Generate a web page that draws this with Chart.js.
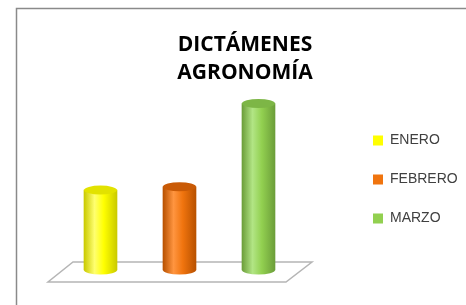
<!DOCTYPE html>
<html><head><meta charset="utf-8">
<script src="https://cdn.jsdelivr.net/npm/chart.js@4"></script>
<style>html,body{margin:0;padding:0;background:#fff;overflow:hidden}</style>
</head><body>
<canvas id="c" width="466" height="305"></canvas>
<script>
const categories = ['ENERO', 'FEBRERO', 'MARZO'];
const values = [24, 25, 50];
const titleLines = ['DICTÁMENES', 'AGRONOMÍA'];
const colors = ['#ffff00', '#f0740e', '#92d050'];
const edgeColors = ['#caca00', '#b85100', '#6c9e3a'];
const highlightColors = ['#ffff70', '#ff9540', '#b2e585'];
const topColors = ['#e2e200', '#c95a06', '#7db646'];
const yMax = 50;

function cylinderFill(i) {
  return (ctx) => {
    const ch = ctx.chart;
    const xs = ch.scales && ch.scales.x;
    if (!xs || !ch.chartArea) return colors[i];
    const cx = xs.getPixelForValue(i);
    const h = 16.5;
    const g = ch.ctx.createLinearGradient(cx - h, 0, cx + h, 0);
    g.addColorStop(0, edgeColors[i]);
    g.addColorStop(0.32, highlightColors[i]);
    g.addColorStop(0.6, colors[i]);
    g.addColorStop(1, edgeColors[i]);
    return g;
  };
}

const cylinderPlugin = {
  id: 'cylinder3d',
  beforeDraw(chart) {
    const c = chart.ctx;
    c.save();
    c.strokeStyle = '#8a8a8a';
    c.lineWidth = 1.5;
    c.strokeRect(16.5, 8.5, 600, 400);
    c.restore();
  },
  beforeDatasetsDraw(chart) {
    const c = chart.ctx;
    const xs = chart.scales.x, ys = chart.scales.y;
    const y0 = ys.getPixelForValue(0);
    const xL = xs.getPixelForValue(0), xR = xs.getPixelForValue(categories.length - 1);
    c.save();
    c.beginPath();
    c.moveTo(xL - 52.5, y0 + 12);
    c.lineTo(xR + 27.5, y0 + 12);
    c.lineTo(xR + 53.5, y0 - 8);
    c.lineTo(xL - 27.5, y0 - 8);
    c.closePath();
    c.fillStyle = '#ffffff';
    c.fill();
    c.strokeStyle = '#b5b5b5';
    c.lineWidth = 1.5;
    c.stroke();
    c.restore();
  },
  afterDatasetsDraw(chart) {
    const c = chart.ctx;
    chart.data.datasets.forEach((ds, i) => {
      const meta = chart.getDatasetMeta(i);
      meta.data.forEach((el) => {
        const rx = el.width / 2, ry = 4.5;
        c.save();
        c.beginPath();
        c.ellipse(el.x, el.base, rx, ry, 0, 0, Math.PI);
        c.fillStyle = el.options.backgroundColor;
        c.fill();
        c.beginPath();
        c.ellipse(el.x, el.y, rx, ry, 0, 0, Math.PI * 2);
        c.fillStyle = topColors[i];
        c.fill();
        c.restore();
      });
    });
  }
};

new Chart(document.getElementById('c'), {
  type: 'bar',
  data: {
    datasets: categories.map((cat, i) => ({
      label: cat,
      data: [{ x: i, y: values[i] }],
      backgroundColor: cylinderFill(i),
      borderWidth: 0,
      barThickness: 33,
      grouped: false,
      clip: false
    }))
  },
  options: {
    responsive: false,
    devicePixelRatio: 1,
    animation: false,
    layout: { padding: { left: 32, right: 8, top: 0, bottom: 35 } },
    scales: {
      x: { type: 'linear', min: -0.867, max: 3.133, display: false, offset: false },
      y: { min: 0, max: yMax, display: false }
    },
    plugins: {
      tooltip: { enabled: false },
      title: {
        display: true,
        text: titleLines,
        color: '#000000',
        font: { family: 'Open Sans', size: 21, weight: 'bold', lineHeight: 1.333 },
        padding: { top: 31, bottom: 16.5 }
      },
      legend: {
        position: 'right',
        fullSize: false,
        align: 'start',
        maxWidth: 110,
        title: { display: true, text: ' ', font: { size: 5, lineHeight: 1 }, padding: 0 },
        labels: {
          boxWidth: 10,
          boxHeight: 10,
          padding: 25,
          color: '#404040',
          font: { family: 'Liberation Sans', size: 14 },
          generateLabels: () => categories.map((cat, i) => ({
            text: cat, fillStyle: colors[i], strokeStyle: colors[i], lineWidth: 0,
            hidden: false, datasetIndex: i, fontColor: '#404040'
          }))
        }
      }
    }
  },
  plugins: [cylinderPlugin]
});
</script>
</body></html>
